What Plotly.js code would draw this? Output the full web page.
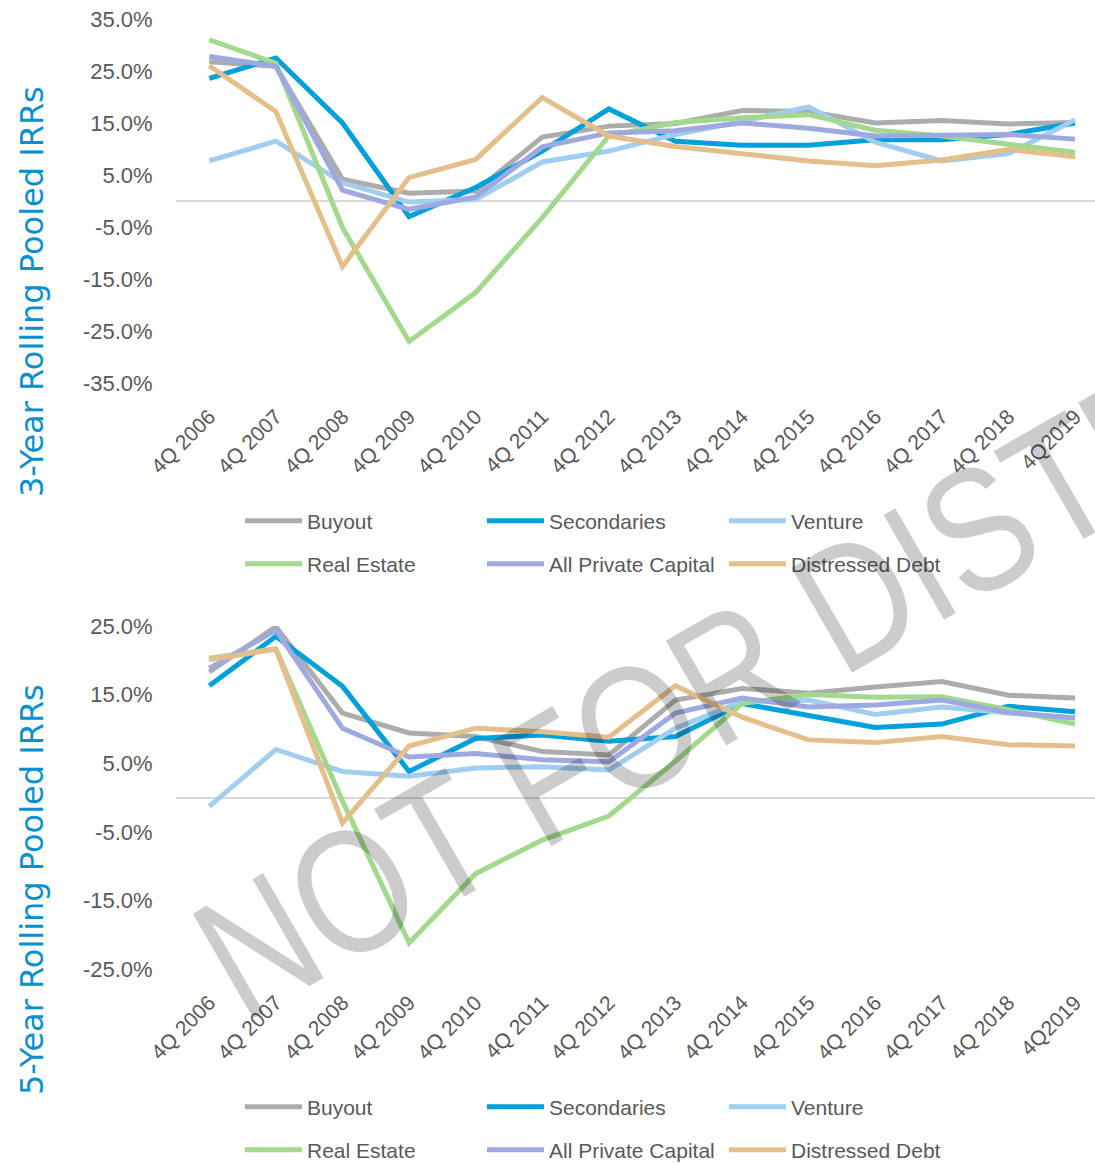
<!DOCTYPE html>
<html>
<head>
<meta charset="utf-8">
<script src="https://cdn.plot.ly/plotly-3.0.1.min.js"></script>
<style>html,body{margin:0;padding:0;background:#fff;}#chart{width:1095px;height:1164px;}</style>
</head>
<body>
<div id="chart"></div>
<script>
var categories = ["4Q 2006","4Q 2007","4Q 2008","4Q 2009","4Q 2010","4Q 2011","4Q 2012","4Q 2013","4Q 2014","4Q 2015","4Q 2016","4Q 2017","4Q 2018","4Q2019"];
var seriesNames = ["Buyout","Secondaries","Venture","Real Estate","All Private Capital","Distressed Debt"];

// y-axis tick values and labels
var yTickVals3 = [-35, -25, -15, -5, 5, 15, 25, 35];
var yTickText3 = ["-35.0%", "-25.0%", "-15.0%", "-5.0%", "5.0%", "15.0%", "25.0%", "35.0%"];
var yTickVals5 = [-25, -15, -5, 5, 15, 25];
var yTickText5 = ["-25.0%", "-15.0%", "-5.0%", "5.0%", "15.0%", "25.0%"];

// 3-Year Rolling Pooled IRRs (%)
var buyout3 = [26.8, 25.9, 4.2, 1.5, 1.9, 12.3, 14.4, 14.9, 17.4, 17.2, 15.0, 15.5, 14.8, 15.1];
var secondaries3 = [23.6, 27.5, 15.0, -3.0, 2.6, 9.6, 17.7, 11.5, 10.7, 10.7, 11.8, 11.8, 12.8, 15.0];
var venture3 = [7.7, 11.5, 3.5, -0.2, 0.3, 7.5, 9.6, 12.8, 15.3, 18.1, 11.3, 7.7, 9.1, 15.6];
var realEstate3 = [31.0, 26.5, -5.1, -27.0, -17.6, -3.2, 12.5, 15.1, 16.0, 16.6, 13.6, 12.5, 10.9, 9.4];
var allPrivate3 = [27.8, 25.9, 2.1, -1.6, 0.8, 10.4, 13.1, 13.5, 15.0, 14.0, 12.5, 12.6, 12.8, 11.9];
var distressed3 = [26.0, 17.2, -12.6, 4.5, 8.0, 19.9, 12.5, 10.5, 9.1, 7.7, 6.8, 7.9, 9.9, 8.5];

// 5-Year Rolling Pooled IRRs (%)
var buyout5 = [18.3, 24.9, 12.3, 9.4, 8.9, 6.7, 6.2, 14.2, 15.9, 15.2, 16.1, 16.9, 14.9, 14.5];
var secondaries5 = [16.3, 23.5, 16.2, 3.8, 8.6, 9.1, 8.2, 8.9, 13.7, 12.0, 10.2, 10.7, 13.3, 12.5];
var venture5 = [-1.3, 7.0, 3.8, 3.1, 4.3, 4.5, 4.0, 10.1, 14.0, 14.2, 12.1, 13.2, 12.3, 11.6];
var realEstate5 = [20.3, 21.7, -0.5, -21.2, -11.1, -6.2, -2.7, 5.3, 13.7, 15.0, 14.6, 14.7, 12.8, 10.7];
var allPrivate5 = [18.8, 24.4, 10.1, 5.9, 6.4, 5.5, 5.2, 12.3, 14.5, 13.2, 13.5, 14.2, 12.4, 11.6];
var distressed5 = [20.1, 21.6, -3.7, 7.5, 10.1, 9.6, 8.8, 16.3, 11.7, 8.4, 8.0, 8.9, 7.7, 7.5];

var colors = ["#acacac", "#00a0dc", "#a0cdf0", "#a2d98c", "#9ea9e0", "#e4bf8a"];

var data3 = [buyout3, secondaries3, venture3, realEstate3, allPrivate3, distressed3];
var data5 = [buyout5, secondaries5, venture5, realEstate5, allPrivate5, distressed5];

var traces = [];
data3.forEach(function (vals, i) {
  traces.push({
    type: "scatter", mode: "lines", x: categories, y: vals, name: seriesNames[i],
    xaxis: "x", yaxis: "y",
    line: {color: colors[i], width: 5},
    legend: i < 3 ? "legend" : "legend2",
    hoverinfo: "x+y+name"
  });
});
data5.forEach(function (vals, i) {
  traces.push({
    type: "scatter", mode: "lines", x: categories, y: vals, name: seriesNames[i],
    xaxis: "x2", yaxis: "y2",
    line: {color: colors[i], width: 5},
    legend: i < 3 ? "legend3" : "legend4",
    hoverinfo: "x+y+name"
  });
});

var W = 1095, H = 1164;
var tickFont = {family: "Liberation Sans, Arial, sans-serif", size: 22, color: "#595959"};
var xTickFont = {family: "Liberation Sans, Arial, sans-serif", size: 21, color: "#595959"};
var legendFont = {family: "Liberation Sans, Arial, sans-serif", size: 21, color: "#595959"};

function xAxis(anchor) {
  return {
    type: "category", anchor: anchor, range: [-0.5, 13.3], domain: [0, 1],
    showgrid: false, zeroline: false, showline: false,
    tickangle: -45, ticks: "outside", ticklen: 12, tickcolor: "rgba(0,0,0,0)",
    tickfont: xTickFont, fixedrange: true
  };
}
function yAxis(anchor, domain, range, vals, text) {
  return {
    anchor: anchor, domain: domain, range: range,
    tickmode: "array", tickvals: vals, ticktext: text,
    showgrid: false, showline: false,
    zeroline: true, zerolinecolor: "#d9d9d9", zerolinewidth: 2,
    ticks: "outside", ticklen: 18, tickcolor: "rgba(0,0,0,0)",
    tickfont: tickFont, fixedrange: true
  };
}
function legendAt(ypx) {
  return {
    orientation: "h", xref: "container", yref: "container",
    x: 240 / W, xanchor: "left", y: 1 - ypx / H, yanchor: "middle",
    font: legendFont, entrywidth: 170, entrywidthmode: "pixels",
    itemwidth: 57, bgcolor: "rgba(0,0,0,0)", traceorder: "normal"
  };
}

var watermarkText = "NOT FOR DISTRIBUTION";

var layout = {
  width: W, height: H,
  margin: {l: 176, r: 0, t: 0, b: 0, autoexpand: false},
  paper_bgcolor: "#ffffff", plot_bgcolor: "#ffffff",
  showlegend: true,
  xaxis: xAxis("y"),
  yaxis: yAxis("x", [1 - 383 / H, 1 - 19 / H], [-35, 35], yTickVals3, yTickText3),
  xaxis2: xAxis("y2"),
  yaxis2: yAxis("x2", [1 - 969 / H, 1 - 626 / H], [-25, 25], yTickVals5, yTickText5),
  legend: legendAt(521),
  legend2: legendAt(564),
  legend3: legendAt(1107),
  legend4: legendAt(1150),
  annotations: [
    {text: "3-Year Rolling Pooled IRRs", xref: "paper", yref: "paper",
     x: (32 - 176) / 919, y: 1 - 292 / H, xanchor: "center", yanchor: "middle",
     textangle: -90, showarrow: false,
     font: {family: "DejaVu Sans, Verdana, sans-serif", size: 32, color: "#0a90d0"}},
    {text: "5-Year Rolling Pooled IRRs", xref: "paper", yref: "paper",
     x: (32 - 176) / 919, y: 1 - 890 / H, xanchor: "center", yanchor: "middle",
     textangle: -90, showarrow: false,
     font: {family: "DejaVu Sans, Verdana, sans-serif", size: 32, color: "#0a90d0"}},
    {text: watermarkText, xref: "paper", yref: "paper",
     x: (955 - 176) / 919, y: 1 - 543 / H, xanchor: "center", yanchor: "middle",
     textangle: -30, showarrow: false,
     font: {family: "Liberation Sans, Arial, sans-serif", size: 176, color: "rgba(0,0,0,0.2)"}}
  ]
};

Plotly.newPlot("chart", traces, layout, {displayModeBar: false, staticPlot: true}).then(function (gd) {
  // condense the watermark glyphs (narrow sans look of the original)
  var texts = gd.querySelectorAll(".annotation-text");
  texts.forEach(function (t) {
    if (t.textContent === watermarkText) {
      t.setAttribute("textLength", "1716");
      t.setAttribute("lengthAdjust", "spacingAndGlyphs");
    }
  });
});
</script>
</body>
</html>
